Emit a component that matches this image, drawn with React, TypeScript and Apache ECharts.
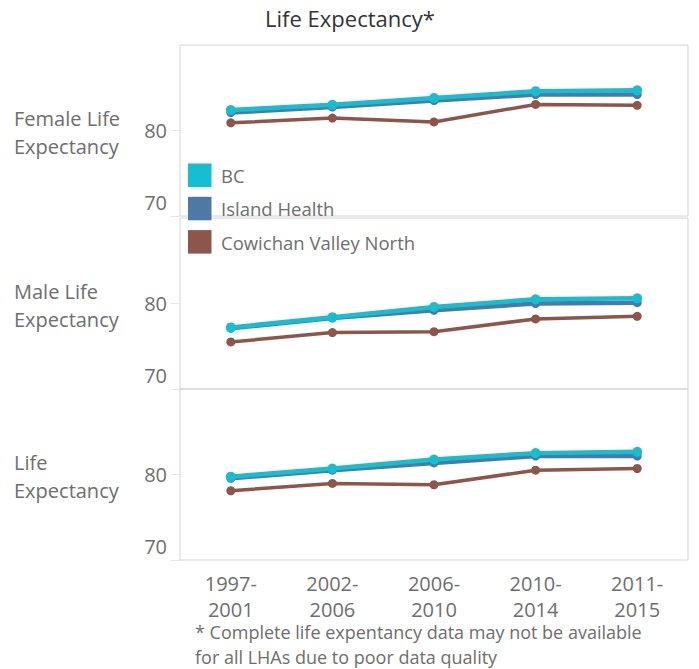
import React, { useEffect, useRef } from "react";
import * as echarts from "echarts";

const categories = ["1997-\n2001", "2002-\n2006", "2006-\n2010", "2010-\n2014", "2011-\n2015"];
const panelNames = ["Female Life\nExpectancy", "Male Life\nExpectancy", "Life\nExpectancy"];
const seriesNames = ["BC", "Island Health", "Cowichan Valley North"];
const yTicks = [70, 80];
const footnoteLines = [
  "* Complete life expentancy data may not be available",
  "for all LHAs due to poor data quality",
];

const femaleBC = [82.4, 83.0, 83.8, 84.6, 84.7];
const femaleIH = [82.1, 82.75, 83.5, 84.2, 84.2];
const femaleCVN = [80.9, 81.45, 81.0, 83.05, 82.95];

const maleBC = [77.2, 78.4, 79.6, 80.5, 80.6];
const maleIH = [77.1, 78.3, 79.2, 80.0, 80.1];
const maleCVN = [75.5, 76.6, 76.7, 78.2, 78.5];

const totalBC = [79.75, 80.7, 81.75, 82.5, 82.65];
const totalIH = [79.55, 80.5, 81.35, 82.15, 82.15];
const totalCVN = [78.1, 78.95, 78.8, 80.5, 80.7];

const FONT = "Open Sans";
const TEXT = "#6e6e6e";
const COLORS = { BC: "#17becf", IH: "#4e79a7", CVN: "#8c564b" };

export default function App() {
  const ref = useRef<HTMLDivElement>(null);
  useEffect(() => {
    if (!ref.current) return;
    const chart = echarts.init(ref.current, null, { renderer: "svg" });
    const panels = [
      { top: 45, bc: femaleBC, ih: femaleIH, cvn: femaleCVN },
      { top: 218, bc: maleBC, ih: maleIH, cvn: maleCVN },
      { top: 389, bc: totalBC, ih: totalIH, cvn: totalCVN },
    ];
    const H = 171;
    const grids = panels.map((p) => ({
      left: 180,
      width: 508,
      top: p.top,
      height: H,
      show: true,
      borderColor: "#d4d4d4",
      borderWidth: 1,
      backgroundColor: "transparent",
    }));
    const xAxes = panels.map((p, i) => ({
      type: "category",
      gridIndex: i,
      data: categories,
      boundaryGap: true,
      axisLine: { show: false },
      axisTick: { show: false },
      axisLabel: {
        show: i === 2,
        fontFamily: FONT,
        fontSize: 20,
        lineHeight: 26,
        color: TEXT,
        margin: 10,
      },
      splitLine: { show: false },
    }));
    const yAxes = panels.map((p, i) => ({
      type: "value",
      gridIndex: i,
      min: 70,
      max: 90,
      interval: 10,
      axisLine: { show: false },
      axisTick: {
        show: true,
        length: 9,
        lineStyle: { color: "#e6e6e6" },
        customValues: yTicks,
      },
      axisLabel: {
        fontFamily: FONT,
        fontSize: 20,
        lineHeight: 27,
        color: TEXT,
        margin: 13,
        customValues: yTicks,
        verticalAlignMinLabel: "bottom",
      },
      splitLine: { show: false },
    }));
    const series: any[] = [];
    panels.forEach((p, i) => {
      series.push({
        name: seriesNames[2],
        type: "line",
        xAxisIndex: i,
        yAxisIndex: i,
        data: p.cvn,
        symbol: "circle",
        symbolSize: 9,
        lineStyle: { width: 3.5, color: COLORS.CVN },
        itemStyle: { color: COLORS.CVN },
        z: 2,
      });
      series.push({
        name: seriesNames[1],
        type: "line",
        xAxisIndex: i,
        yAxisIndex: i,
        data: p.ih,
        symbol: "circle",
        symbolSize: 9,
        lineStyle: { width: 4.5, color: COLORS.IH },
        itemStyle: { color: COLORS.IH },
        z: 3,
      });
      series.push({
        name: seriesNames[0],
        type: "line",
        xAxisIndex: i,
        yAxisIndex: i,
        data: p.bc,
        symbol: "circle",
        symbolSize: 10,
        lineStyle: { width: 4.5, color: COLORS.BC },
        itemStyle: { color: COLORS.BC },
        z: 4,
      });
    });

    const legendColors = [COLORS.BC, COLORS.IH, COLORS.CVN];
    const graphics: any[] = [];
    seriesNames.forEach((n, k) => {
      const y0 = 163.5 + k * 33.3;
      graphics.push({
        type: "rect",
        shape: { x: 188, y: y0, width: 23.5, height: 23.5 },
        style: { fill: legendColors[k] },
        z: 10,
      });
      graphics.push({
        type: "text",
        x: 221,
        y: y0 + 12,
        style: {
          text: n,
          fontFamily: FONT,
          fontSize: 18.5,
          fill: TEXT,
          textVerticalAlign: "middle",
        },
        z: 10,
      });
    });
    panels.forEach((p, i) => {
      graphics.push({
        type: "text",
        x: 14,
        y: p.top + H / 2 + 2,
        style: {
          text: panelNames[i],
          fontFamily: FONT,
          fontSize: 20,
          lineHeight: 28,
          fill: TEXT,
          textVerticalAlign: "middle",
        },
      });
    });
    graphics.push({
      type: "text",
      x: 350,
      y: 18,
      style: {
        text: "Life Expectancy*",
        fontFamily: FONT,
        fontSize: 22,
        fontWeight: 500,
        fill: "#333",
        textAlign: "center",
        textVerticalAlign: "middle",
      },
    });
    footnoteLines.forEach((line, k) => {
      graphics.push({
        type: "text",
        x: 195,
        y: 632 + k * 25,
        style: {
          text: line,
          fontFamily: FONT,
          fontSize: 18,
          lineHeight: 20,
          fill: TEXT,
          textVerticalAlign: "middle",
        },
      });
    });

    chart.setOption({
      animation: false,
      backgroundColor: "#fff",
      grid: grids,
      xAxis: xAxes,
      yAxis: yAxes,
      series,
      graphic: graphics,
    });
    return () => chart.dispose();
  }, []);
  return (
    <div
      ref={ref}
      style={{ position: "fixed", left: 0, top: 0, width: 699, height: 669 }}
    />
  );
}
